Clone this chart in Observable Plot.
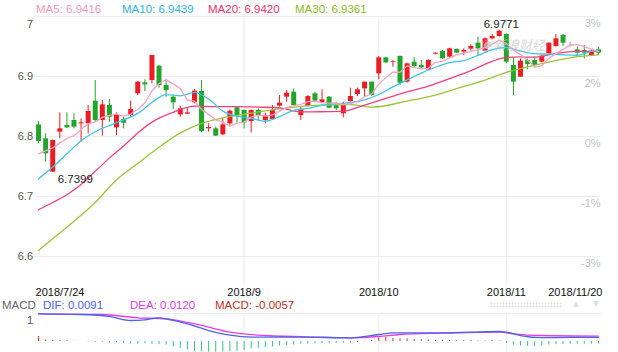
<!DOCTYPE html>
<html><head><meta charset="utf-8">
<script src="https://cdn.jsdelivr.net/npm/d3@7"></script>
<script src="https://cdn.jsdelivr.net/npm/@observablehq/plot@0.6"></script>
<style>
html,body{margin:0;padding:0;background:#fff;}
#wrap{position:relative;width:618px;height:352px;overflow:hidden;font-family:"Liberation Sans",Arial,Helvetica,sans-serif;}
.lg{position:absolute;font-size:11.5px;white-space:nowrap;line-height:14px;}
#main{position:absolute;left:0;top:0;}
#macd{position:absolute;left:0;top:313px;}
#wm{position:absolute;left:480px;top:35px;font-size:13px;color:#c8c8c8;opacity:0.7;font-style:italic;font-family:"Noto Sans CJK SC",sans-serif;}
#dots{position:absolute;left:490px;top:302px;width:73px;height:7px;background-image:radial-gradient(circle,#e2e2e2 0.9px,transparent 1.1px);background-size:3px 3px;}
.tri{position:absolute;top:298px;font-size:10px;color:#dedede;}
</style></head><body><div id="wrap"><div id="main"></div><div id="macd"></div></div>
<script>
// ---- candle data (index 0 = 2018/7/24 ... 79 = 2018/11/20) ----
const open = [6.8194,6.7961,6.7406,6.8072,6.8183,6.8267,6.8211,6.8211,6.8589,6.8267,6.8517,6.8144,6.8283,6.835,6.8711,6.8894,6.8933,6.9172,6.885,6.8656,6.8361,6.8372,6.8561,6.875,6.8128,6.8128,6.8028,6.8211,6.8478,6.8433,6.825,6.8433,6.8267,6.8283,6.8506,6.8656,6.8739,6.835,6.85,6.8711,6.8567,6.8656,6.8517,6.8378,6.8583,6.87,6.8794,6.8906,6.9044,6.9311,6.9233,6.9333,6.8906,6.9239,6.9183,6.9111,6.9372,6.9422,6.9322,6.945,6.9406,6.9456,6.9556,6.9422,6.9628,6.9667,6.97,6.9183,6.8989,6.9267,6.9267,6.9239,6.9378,6.95,6.9683,6.9528,6.9444,6.9433,6.935,6.9444];
const high = [6.825,6.8044,6.794,6.8394,6.8394,6.8378,6.8294,6.8517,6.8933,6.86,6.8617,6.8394,6.8322,6.8589,6.8917,6.8944,6.935,6.9183,6.8933,6.8672,6.8506,6.8461,6.8783,6.8933,6.8211,6.8156,6.8294,6.8444,6.8489,6.8444,6.8444,6.8461,6.8389,6.8517,6.8683,6.8767,6.8794,6.85,6.8683,6.8739,6.8778,6.8667,6.8572,6.8572,6.8806,6.8806,6.8906,6.8906,6.9333,6.9322,6.9267,6.9344,6.9222,6.9311,6.9267,6.9278,6.9394,6.9433,6.9472,6.9461,6.9461,6.9528,6.9656,6.9644,6.97,6.9771,6.9711,6.9306,6.9294,6.9294,6.9322,6.935,6.9561,6.97,6.97,6.9572,6.9489,6.9517,6.9444,6.9489];
const low = [6.7878,6.7572,6.7399,6.7961,6.813,6.8128,6.7906,6.8044,6.8239,6.8006,6.8239,6.8017,6.8128,6.8322,6.8683,6.875,6.8878,6.8806,6.8656,6.845,6.8322,6.8367,6.8544,6.8061,6.8072,6.8,6.8017,6.8183,6.8228,6.8128,6.8061,6.8267,6.8211,6.8267,6.8489,6.8572,6.8517,6.8267,6.8489,6.8561,6.8544,6.8461,6.8433,6.8311,6.8572,6.8667,6.8667,6.8667,6.8944,6.9211,6.9156,6.885,6.8889,6.9144,6.9111,6.91,6.9361,6.9283,6.9311,6.9378,6.935,6.9422,6.935,6.9406,6.9611,6.9656,6.9211,6.8683,6.8989,6.9111,6.9144,6.9228,6.9367,6.9489,6.95,6.9489,6.9322,6.9294,6.9339,6.935];
const close = [6.7917,6.7711,6.7933,6.8128,6.8144,6.8156,6.8228,6.8417,6.8267,6.8528,6.8322,6.835,6.8222,6.845,6.8906,6.8861,6.935,6.885,6.8767,6.8561,6.8461,6.8394,6.8756,6.8083,6.815,6.8006,6.8194,6.8422,6.835,6.8228,6.8433,6.835,6.835,6.8433,6.8556,6.8722,6.8517,6.8444,6.8667,6.8589,6.8611,6.8472,6.8461,6.8517,6.8667,6.8778,6.8906,6.8683,6.9311,6.9228,6.9244,6.8889,6.9211,6.9167,6.9144,6.9267,6.9389,6.9294,6.9461,6.9389,6.9433,6.95,6.9461,6.9628,6.9667,6.9756,6.9239,6.8906,6.9256,6.92,6.9183,6.9339,6.9556,6.9628,6.9556,6.9528,6.9389,6.9389,6.9422,6.9389];

// ---- moving averages ----
const ma5 = [6.771,6.776,6.781,6.789,6.7967,6.8014,6.8118,6.8215,6.8242,6.8319,6.8352,6.8377,6.8338,6.8374,6.845,6.8558,6.8758,6.8883,6.8947,6.8878,6.8798,6.8607,6.8588,6.8451,6.8369,6.8278,6.8238,6.8171,6.8224,6.824,6.8325,6.8357,6.8342,6.8359,6.8424,6.8482,6.8516,6.8534,6.8581,6.8588,6.8566,6.8557,6.856,6.853,6.8546,6.8579,6.8666,6.871,6.8869,6.8981,6.9074,6.9071,6.9177,6.9148,6.9131,6.9136,6.9236,6.9252,6.9311,6.936,6.9393,6.9415,6.9449,6.9482,6.9538,6.9602,6.955,6.9439,6.9365,6.9271,6.9157,6.9177,6.9307,6.9381,6.9452,6.9521,6.9531,6.9498,6.9457,6.9416];
const ma10Idx = [0,2,4,6,8,10,12,14,16,18,20,22,24,26,28,30,32,34,36,38,40,42,44,46,48,50,52,54,56,58,60,62,64,66,68,70,72,74,76,78,79];
const ma10Val = [6.7294,6.749,6.771,6.793,6.808,6.8183,6.8277,6.8385,6.8568,6.8699,6.8678,6.8736,6.8624,6.8423,6.8338,6.8302,6.8257,6.8332,6.8437,6.847,6.8524,6.8547,6.8567,6.8612,6.87,6.8827,6.8944,6.9056,6.9154,6.923,6.9265,6.9351,6.9449,6.9483,6.9424,6.938,6.9373,6.9362,6.9354,6.9419,6.9439];
const ma20Idx = [0,2,4,6,8,10,12,14,16,19,22,25,28,31,34,37,40,43,46,49,52,55,58,61,64,66,68,70,73,76,79];
const ma20Val = [6.678,6.69,6.703,6.72,6.742,6.764,6.784,6.806,6.824,6.8404,6.8506,6.8497,6.8499,6.849,6.8478,6.8409,6.8413,6.8424,6.8524,6.8635,6.8745,6.8839,6.8965,6.9097,6.9253,6.9318,6.9327,6.9322,6.9385,6.9418,6.942];
const ma30Idx = [0,4,8,11,14,17,20,23,26,29,34,39,44,47,52,56,59,63,66,68,72,76,79];
const ma30Val = [6.61,6.649,6.69,6.728,6.755,6.782,6.806,6.822,6.831,6.837,6.846,6.852,6.853,6.849,6.859,6.869,6.88,6.894,6.907,6.913,6.924,6.933,6.9361];

// ---- MACD panel ----
const difIdx = [0,6,10,13,15,17,19,21,24,27,30,37,44,48,50,56,61,65,66,68,71,75,79];
const difVal = [0.0616,0.06,0.0556,0.0467,0.0482,0.0527,0.0467,0.0393,0.0244,0.014,0.0096,0.0096,0.0082,0.0156,0.0193,0.0193,0.0207,0.0222,0.0207,0.0133,0.0085,0.009,0.0091];
const deaIdx = [0,9,14,18,23,27,32,40,44,48,51,57,65,67,71,79];
const deaVal = [0.0616,0.06,0.0527,0.0504,0.0356,0.0207,0.0133,0.0096,0.0082,0.0111,0.0156,0.0184,0.0207,0.0171,0.0133,0.012];
const macdHist = [0.011,0.003,0.002,0.002,0.0015,0.0005,0,-0.001,-0.002,-0.002,-0.003,-0.003,-0.005,-0.006,-0.006,-0.005,-0.006,-0.007,-0.008,-0.012,-0.016,-0.019,-0.022,-0.023,-0.024,-0.024,-0.024,-0.023,-0.022,-0.02,-0.017,-0.016,-0.014,-0.012,-0.01,-0.009,-0.008,-0.006,-0.006,-0.005,-0.005,-0.005,-0.004,-0.004,-0.003,-0.002,-0.001,0.002,0.008,0.009,0.007,0.006,0.006,0.004,0.004,0.003,0.003,0.003,0.002,0.002,0.002,0.002,0.001,0.001,0.002,0.001,-0.004,-0.008,-0.01,-0.011,-0.011,-0.01,-0.008,-0.007,-0.007,-0.006,-0.006,-0.006,-0.006,-0.0057];
const macdTickValues = [0.0467];
const macdTickLabels = ["1"];

// ---- ticks ----
const gridPrices = [6.6,6.7,6.8,6.9,7.0];
const yTickLabels = ["6.6","6.7","6.8","6.9","7"];
const pctLabels = ["-3%","-1%","0%","2%","3%"];
const dateTickIdx = [0,29,48,66,79];
const dateTickLabels = ["2018/7/24","2018/9","2018/10","2018/11","2018/11/20"];

const RED = "#ee1c22", GREEN = "#22a52a", GRAY = "#999";
const C_MA5 = "#f7a2c2", C_MA10 = "#3ec3ea", C_MA20 = "#f2407a", C_MA30 = "#9cc43a";
const FONT = '"Liberation Sans",Arial,Helvetica,sans-serif';
const xDomain = [-0.5, 79.3];
const ML = 34.5, MR = 17.9;

const candles = open.map((o, i) => ({i, o, h: high[i], l: low[i], c: close[i]}));
const col = d => d.c > d.o ? RED : d.c < d.o ? GREEN : GRAY;
const toPts = (idx, val) => idx.map((i, k) => ({i, v: val[k]}));
const ma5Pts = ma5.map((v, i) => ({i, v}));
const yTicks = gridPrices.map((p, k) => ({p, label: yTickLabels[k], pct: pctLabels[k]}));
const dTicks = dateTickIdx.map((i, k) => ({i, label: dateTickLabels[k]}));
const gridIdx = dateTickIdx.slice(1, -1);
const hiC = candles.reduce((a, b) => b.h > a.h ? b : a);
const loC = candles.reduce((a, b) => b.l < a.l ? b : a);

const main = Plot.plot({
  width: 618, height: 302,
  marginLeft: ML, marginRight: MR, marginTop: 16, marginBottom: 17,
  x: {domain: xDomain, axis: null},
  y: {domain: [6.5517, 7.0], axis: null},
  style: {fontFamily: FONT, background: "transparent", overflow: "visible"},
  marks: [
    Plot.ruleY(gridPrices, {stroke: "#ededed"}),
    Plot.ruleX(gridIdx, {stroke: "#ededed"}),
    Plot.text(yTicks.filter(d => d.p < 7), {y: "p", text: "label", frameAnchor: "left", textAnchor: "end", dx: -2, fontSize: 11, fill: "#555"}),
    Plot.text(yTicks.filter(d => d.p >= 7), {y: "p", text: "label", frameAnchor: "left", textAnchor: "end", dx: -2, dy: 8, fontSize: 11, fill: "#555"}),
    Plot.text(yTicks, {y: "p", text: "pct", frameAnchor: "right", textAnchor: "end", dy: 7, fontSize: 11, fill: "#c4c4c4"}),
    Plot.ruleX(candles, {x: "i", y1: "l", y2: "h", stroke: col, strokeWidth: 1}),
    Plot.ruleX(candles, {x: "i", y1: "o", y2: d => Math.abs(d.c - d.o) < 0.0003 ? d.o + 0.0003 : d.c, stroke: col, strokeWidth: 5}),
    Plot.line(ma30Val.map((v, k) => ({i: ma30Idx[k], v})), {x: "i", y: "v", stroke: C_MA30, strokeWidth: 1.3, curve: "monotone-x"}),
    Plot.line(toPts(ma20Idx, ma20Val), {x: "i", y: "v", stroke: C_MA20, strokeWidth: 1.3, curve: "monotone-x"}),
    Plot.line(toPts(ma10Idx, ma10Val), {x: "i", y: "v", stroke: C_MA10, strokeWidth: 1.3, curve: "monotone-x"}),
    Plot.line(ma5Pts, {x: "i", y: "v", stroke: C_MA5, strokeWidth: 1.3}),
    Plot.text([hiC], {x: "i", y: "h", text: d => d.h.toFixed(4), dy: -6, dx: 2, fontSize: 11.5, fill: "#222"}),
    Plot.text([loC], {x: "i", y: "l", text: d => d.l.toFixed(4), dy: 7, dx: 5, textAnchor: "start", fontSize: 11.5, fill: "#222"}),
    Plot.text(dTicks.slice(0, 1), {x: "i", text: "label", frameAnchor: "bottom", dy: 10, dx: -3, textAnchor: "start", fontSize: 11, fill: "#111"}),
    Plot.text(dTicks.slice(1, -1), {x: "i", text: "label", frameAnchor: "bottom", dy: 10, fontSize: 11, fill: "#111"}),
    Plot.text(dTicks.slice(-1), {x: "i", text: "label", frameAnchor: "bottom", dy: 10, dx: 4, textAnchor: "end", fontSize: 11, fill: "#111"})
  ]
});
document.getElementById("main").appendChild(main);

const macd = Plot.plot({
  width: 618, height: 39,
  marginLeft: ML, marginRight: MR, marginTop: 0, marginBottom: 0,
  x: {domain: xDomain, axis: null},
  y: {domain: [-0.02444, 0.06222], axis: null},
  style: {fontFamily: FONT, background: "transparent", overflow: "visible"},
  marks: [
    Plot.frame({anchor: "top", stroke: "#ececec"}),
    Plot.ruleX(gridIdx, {stroke: "#ededed"}),
    Plot.ruleX(macdHist.map((v, i) => ({i, v})), {x: "i", y1: 0, y2: "v", stroke: d => d.v >= 0 ? "#e0332f" : "#3cc08c", strokeWidth: 1, clip: true}),
    Plot.line(toPts(deaIdx, deaVal), {x: "i", y: "v", stroke: "#e23ee8", strokeWidth: 1.3, curve: "monotone-x"}),
    Plot.line(toPts(difIdx, difVal), {x: "i", y: "v", stroke: "#4b63e6", strokeWidth: 1.3, curve: "monotone-x"}),
    Plot.text(macdTickValues.map((v, k) => ({v, t: macdTickLabels[k]})), {y: "v", text: "t", frameAnchor: "left", textAnchor: "end", dx: -2, fontSize: 11, fill: "#555"})
  ]
});
document.getElementById("macd").appendChild(macd);

// ---- legends ----
const wrap = document.getElementById("wrap");
function addLabel(text, left, top, color) {
  const s = document.createElement("span");
  s.className = "lg"; s.textContent = text;
  s.style.left = left + "px"; s.style.top = top + "px"; s.style.color = color;
  wrap.appendChild(s);
}
const f4 = v => v.toFixed(4);
addLabel("MA5: " + f4(ma5[ma5.length - 1]), 36, 2, "#f598b8");
addLabel("MA10: " + f4(ma10Val[ma10Val.length - 1]), 122, 2, "#30b4e0");
addLabel("MA20: " + f4(ma20Val[ma20Val.length - 1]), 208, 2, "#f0336c");
addLabel("MA30: " + f4(ma30Val[ma30Val.length - 1]), 295, 2, "#8cbc2a");
addLabel("MACD", 2, 298, "#666");
addLabel("DIF: " + f4(difVal[difVal.length - 1]), 43, 298, "#4a63e8");
addLabel("DEA: " + f4(deaVal[deaVal.length - 1]), 130, 298, "#e040f0");
addLabel("MACD: " + f4(macdHist[macdHist.length - 1]), 215, 298, "#c0302a");
const wm = document.createElement("div"); wm.id = "wm"; wm.textContent = "◉新浪财经"; wrap.appendChild(wm);
const dots = document.createElement("div"); dots.id = "dots"; wrap.appendChild(dots);
const t1 = document.createElement("div"); t1.className = "tri"; t1.style.left = "571px"; t1.textContent = "▲"; wrap.appendChild(t1);
const t2 = document.createElement("div"); t2.className = "tri"; t2.style.left = "591px"; t2.textContent = "▼"; wrap.appendChild(t2);
</script>
</body></html>
